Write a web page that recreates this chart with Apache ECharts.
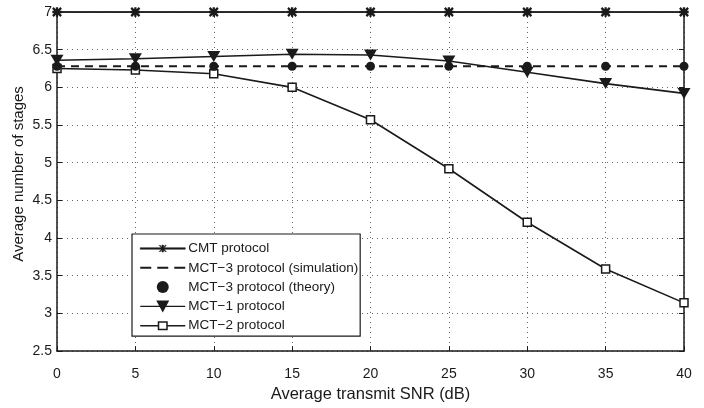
<!DOCTYPE html>
<html>
<head>
<meta charset="utf-8">
<script src="https://cdn.jsdelivr.net/npm/echarts@6/dist/echarts.min.js"></script>
<style>
  html, body { margin: 0; padding: 0; background: #fff; }
  #chart { width: 704px; height: 408px; }
</style>
</head>
<body>
<div id="chart"></div>
<script>
var snr = [0, 5, 10, 15, 20, 25, 30, 35, 40];
var cmt = [7, 7, 7, 7, 7, 7, 7, 7, 7];
var mct3Sim = [6.28, 6.28, 6.28, 6.28, 6.28, 6.28, 6.28, 6.28, 6.28];
var mct3Theory = [6.28, 6.28, 6.28, 6.28, 6.28, 6.28, 6.28, 6.28, 6.28];
var mct1 = [6.36, 6.38, 6.41, 6.44, 6.43, 6.35, 6.2, 6.05, 5.92];
var mct2 = [6.25, 6.23, 6.18, 6.0, 5.57, 4.92, 4.21, 3.59, 3.14];
var names = ['CMT protocol', 'MCT\u22123 protocol (simulation)', 'MCT\u22123 protocol (theory)', 'MCT\u22121 protocol', 'MCT\u22122 protocol'];

function pairs(ys) {
  return snr.map(function (x, i) { return [x, ys[i]]; });
}

var ink = '#1a1a1a';
// marker shapes
var asterisk = 'path://M4.4,0h1.2v10h-1.2z M0,4.4h10v1.2h-10z M0.8,0L10,9.2L9.2,10L0,0.8Z M9.2,0L10,0.8L0.8,10L0,9.2Z';
var triDown = 'path://M0,0h13L6.5,11z';
// legend icons (line + marker)
var iconCmt = 'path://M0,5.2h45v1.6h-45z M21.7,2.5h1.6v7h-1.6z M19.6,2.5L26,8.9L25.4,9.5L19,3.1Z M25.4,2.5L26,3.1L19.6,9.5L19,8.9Z';
var iconDash = 'path://M0,4h11v2h-11z M17,4h11v2h-11z M34,4h11v2h-11z';
var iconTri = 'path://M0,5.3h45v1.4h-45z M16,0h13L22.5,12z';
var iconSq = 'path://M0,5.3h18v1.4h-18z M27,5.3h18v1.4h-18z M17.5,1.5h10v9h-10z M19,3v6h7v-6z';
var font = '"Liberation Sans", Arial, sans-serif';
var legendInk = { color: ink, borderWidth: 0 };

var myChart = echarts.init(document.getElementById('chart'));
var option = {
  animation: false,
  backgroundColor: '#fff',
  textStyle: { fontFamily: font, color: ink },
  grid: { left: 57, right: 20, top: 12, bottom: 54, show: false },
  graphic: [{
    type: 'text', x: 19, y: 174, rotation: Math.PI / 2,
    style: {
      text: 'Average number of stages', font: '15px "Liberation Sans", Arial, sans-serif',
      fill: ink, align: 'center', verticalAlign: 'middle'
    }
  }],
  legend: {
    left: 132, top: 234,
    orient: 'vertical',
    backgroundColor: '#fff',
    borderColor: ink, borderWidth: 1.2,
    padding: [7, 2, 3, 8],
    itemWidth: 45, itemHeight: 12, itemGap: 4.3,
    textStyle: { fontFamily: font, fontSize: 13.5, color: ink, lineHeight: 15, padding: [0, 0, 0, -2] },
    data: [
      { name: names[0], icon: iconCmt, itemStyle: { color: ink, borderColor: ink, borderWidth: 0.5 } },
      { name: names[1], icon: iconDash, itemStyle: legendInk },
      { name: names[2], icon: 'circle', itemStyle: legendInk },
      { name: names[3], icon: iconTri, itemStyle: legendInk },
      { name: names[4], icon: iconSq, itemStyle: legendInk }
    ]
  },
  xAxis: [{
    type: 'value', min: 0, max: 40, interval: 5,
    name: 'Average transmit SNR (dB)', nameLocation: 'middle', nameGap: 30,
    nameTextStyle: { fontSize: 16.5, color: ink, fontFamily: font },
    axisLine: { onZero: false, lineStyle: { color: ink, width: 1.5 } },
    axisTick: { inside: true, length: 5, lineStyle: { color: ink } },
    axisLabel: { fontSize: 14, color: ink, margin: 16 },
    splitLine: { show: true, lineStyle: { color: '#666', type: [1, 4], width: 1 } }
  }, {
    type: 'value', min: 0, max: 40, interval: 5, position: 'top',
    axisLine: { onZero: false, lineStyle: { color: ink, width: 1.5 } },
    axisTick: { inside: true, length: 5, lineStyle: { color: ink } },
    axisLabel: { show: false }, splitLine: { show: false }
  }],
  yAxis: [{
    type: 'value', min: 2.5, max: 7, interval: 0.5,
    axisLine: { show: true, onZero: false, lineStyle: { color: ink, width: 1.5 } },
    axisTick: { show: true, inside: true, length: 5, lineStyle: { color: ink } },
    axisLabel: { fontSize: 14, color: ink, margin: 5 },
    splitLine: { show: true, lineStyle: { color: '#666', type: [1, 4], width: 1 } }
  }, {
    type: 'value', min: 2.5, max: 7, interval: 0.5, position: 'right',
    axisLine: { show: true, onZero: false, lineStyle: { color: ink, width: 1.5 } },
    axisTick: { show: true, inside: true, length: 5, lineStyle: { color: ink } },
    axisLabel: { show: false }, splitLine: { show: false }
  }],
  series: [{
    name: names[0], type: 'line', data: pairs(cmt),
    symbol: asterisk, symbolSize: 8,
    lineStyle: { color: ink, width: 1.6 },
    itemStyle: { color: ink, borderColor: ink, borderWidth: 1.3 }
  }, {
    name: names[1], type: 'line', data: pairs(mct3Sim),
    showSymbol: false, symbol: 'none',
    lineStyle: { color: ink, width: 1.8, type: [8, 6] },
    itemStyle: { color: ink }
  }, {
    name: names[2], type: 'scatter', data: pairs(mct3Theory),
    symbol: 'circle', symbolSize: 9, z: 4,
    itemStyle: { color: ink, opacity: 1 }
  }, {
    name: names[3], type: 'line', data: pairs(mct1),
    symbol: triDown, symbolSize: [13, 11],
    lineStyle: { color: ink, width: 1.6 },
    itemStyle: { color: ink }
  }, {
    name: names[4], type: 'line', data: pairs(mct2),
    symbol: 'rect', symbolSize: 8,
    lineStyle: { color: ink, width: 1.6 },
    itemStyle: { color: '#fff', borderColor: ink, borderWidth: 1.5 }
  }]
};
myChart.setOption(option);
</script>
</body>
</html>
